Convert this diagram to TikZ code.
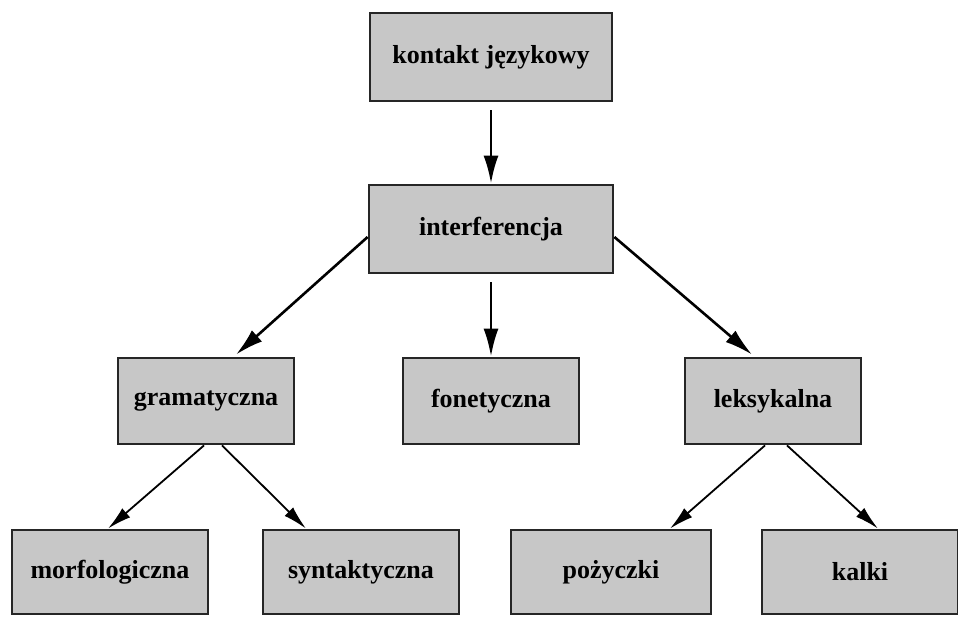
\documentclass[tikz,border=0pt]{standalone}
\usepackage{fontspec}
\setmainfont{Liberation Serif}
\usepackage{tikz}
\usetikzlibrary{arrows.meta}
\usetikzlibrary{positioning}
\tikzset{
    box/.style={
        draw=black!85,
        rectangle,
        fill=black!22,
        line width=2.8pt,
        minimum width=176pt,
        minimum height=86pt,
        inner sep=2pt,
        font=\bfseries\fontsize{26}{30}\selectfont
    },
    bigarrow/.style={
        draw=black,
        -{Latex[length=28pt, width=15pt]},
        line width=2.6pt
    },
    smallarrow/.style={
        draw=black,
        -{Latex[length=24pt, width=12pt]},
        line width=1.8pt
    }
}

\begin{document}
\begin{tikzpicture}[x=1pt,y=-1pt]
  % Frame of the picture
  \useasboundingbox (0,0) rectangle (958,616);
  \clip (0,0) rectangle (958,616);

  % Top levels
  \node[box, minimum width=242pt, minimum height=88pt] (kontakt) at (491,57) {kontakt językowy};
  \node[box, minimum width=244pt, minimum height=88pt] (interf) at (491,229) {interferencja};

  % Middle row
  \node[box] (gram) at (206,401) {gramatyczna};
  \node[box] (fonet) at (491,401) {fonetyczna};
  \node[box] (leks) at (773,401) {leksykalna};

  % Bottom row
  \node[box, minimum width=196pt, minimum height=84pt] (morf) at (110,572) {morfologiczna};
  \node[box, minimum width=196pt, minimum height=84pt] (synt) at (361,572) {syntaktyczna};
  \node[box, minimum width=200pt, minimum height=84pt] (pozycz) at (611,572) {pożyczki};
  \node[box, minimum width=196pt, minimum height=84pt] (kalki) at (860,572) {kalki};

  % Arrows between the levels
  \draw[bigarrow] ([yshift=-8pt]kontakt.south) -- (interf.north);
  \draw[bigarrow] ([yshift=-8pt]interf.west) -- ([xshift=30pt,yshift=2pt]gram.north);
  \draw[bigarrow] ([yshift=-8pt]interf.south) -- (fonet.north);
  \draw[bigarrow] ([yshift=-8pt]interf.east) -- ([xshift=-21pt,yshift=2pt]leks.north);

  \draw[smallarrow] ([xshift=-2pt]gram.south) -- ([xshift=-2pt]morf.north);
  \draw[smallarrow] ([xshift=16pt]gram.south) -- ([xshift=-55pt]synt.north);
  \draw[smallarrow] ([xshift=-8pt]leks.south) -- ([xshift=59pt]pozycz.north);
  \draw[smallarrow] ([xshift=14pt]leks.south) -- ([xshift=18pt]kalki.north);
\end{tikzpicture}
\end{document}
